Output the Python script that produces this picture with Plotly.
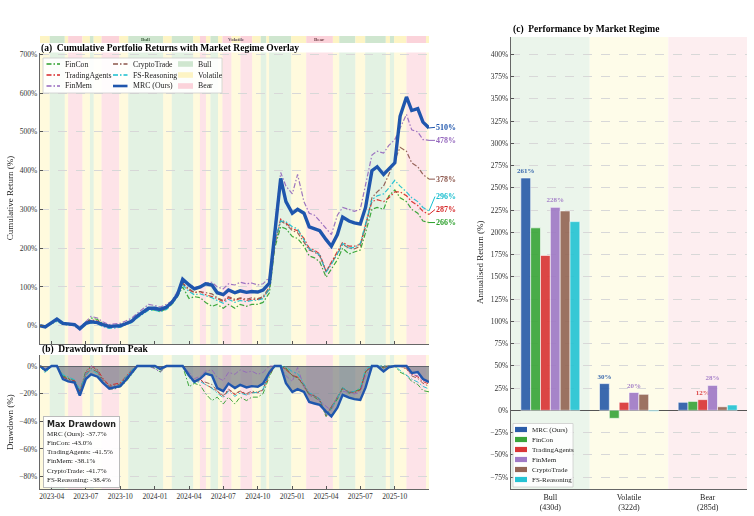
import numpy as np
import plotly.graph_objects as go

# ---------------- data ----------------
DATES = ["2023-03-01", "2023-03-15", "2023-04-01", "2023-04-15", "2023-05-01", "2023-05-15",
         "2023-06-01", "2023-06-15", "2023-07-01", "2023-07-15", "2023-08-01", "2023-08-15",
         "2023-09-01", "2023-09-15", "2023-10-01", "2023-10-15", "2023-11-01", "2023-11-15",
         "2023-12-01", "2023-12-15",
         "2024-01-01", "2024-01-15", "2024-02-01", "2024-02-15", "2024-03-01", "2024-03-15",
         "2024-04-01", "2024-04-15", "2024-05-01", "2024-05-15", "2024-06-01", "2024-06-15",
         "2024-07-01", "2024-07-15", "2024-08-01", "2024-08-15", "2024-09-01", "2024-09-15",
         "2024-10-01", "2024-10-15", "2024-11-01", "2024-11-15", "2024-12-01", "2024-12-15",
         "2025-01-01", "2025-01-15", "2025-02-01", "2025-02-15", "2025-03-01", "2025-03-15",
         "2025-04-01", "2025-04-15", "2025-05-01", "2025-05-15", "2025-06-01", "2025-06-15",
         "2025-07-01", "2025-07-15", "2025-08-01", "2025-08-15", "2025-09-01", "2025-09-15",
         "2025-10-01", "2025-10-15", "2025-11-01", "2025-11-15", "2025-12-01", "2025-12-15",
         "2025-12-31"]

MRC = [0, -3, 8, 17, 6, 4, 3, -8, 6, 10, 8, 3, -2, -1, 0, 5, 12, 25, 35, 45,
       45, 42, 48, 60, 80, 120, 105, 95, 100, 108, 105, 85, 80, 92, 85, 90, 86, 88, 87, 92,
       110, 230, 380, 320,
       290, 300, 290, 255, 250, 245, 222, 205, 235, 280, 270, 265, 262, 305, 400, 410, 390, 405,
       420, 540, 590, 555, 560, 525, 510]
FINCON = [0, -4, 6, 12, 4, 2, 0, -9, 8, 20, 16, 6, 0, 0, 2, 6, 13, 24, 33, 42,
          40, 36, 44, 55, 75, 100, 70, 75, 72, 60, 50, 55, 45, 55, 45, 55, 50, 55, 55, 60,
          85, 200, 255, 250,
          230, 225, 205, 180, 175, 165, 125, 145, 170, 200, 185, 190, 195, 240, 300, 305, 300, 335,
          350, 330, 320, 300, 290, 270, 266]
TRADINGAGENTS = [0, -3, 7, 14, 5, 3, 2, -7, 8, 15, 12, 5, -1, 0, 1, 6, 12, 23, 33, 42,
                 42, 38, 45, 57, 78, 108, 92, 85, 88, 80, 75, 70, 62, 72, 65, 70, 65, 68, 68, 72,
                 95, 210, 275, 265,
                 250, 245, 225, 200, 195, 185, 140, 165, 190, 215, 205, 205, 210, 260, 320, 325, 320,
                 330, 345, 345, 335, 320, 310, 295, 287]
FINMEM = [0, -2, 9, 18, 7, 5, 4, -5, 12, 24, 20, 10, 3, 4, 6, 12, 20, 32, 45, 55,
          52, 48, 55, 64, 88, 118, 108, 98, 102, 110, 112, 100, 95, 108, 105, 112, 108, 110, 105,
          108, 125, 250, 395, 360,
          340, 390, 320, 290, 285, 270, 250, 235, 285, 305, 300, 295, 300, 360, 440, 450, 445, 465,
          480, 510, 545, 505, 500, 480, 478]
CRYPTOTRADE = [0, -3, 8, 15, 6, 4, 2, -6, 7, 13, 10, 4, -2, -1, 0, 5, 11, 22, 33, 43,
               43, 40, 46, 58, 78, 110, 95, 86, 88, 85, 82, 72, 65, 75, 68, 72, 68, 72, 70, 75,
               100, 210, 270, 262,
               245, 240, 215, 195, 190, 180, 140, 160, 185, 210, 200, 198, 205, 255, 330, 345, 360,
               390, 430, 460, 450, 420, 410, 390, 378]
FSREASONING = [0, -5, 6, 11, 4, 2, 0, -8, 4, 8, 5, -2, -7, -6, -4, 2, 8, 20, 30, 40,
               40, 36, 42, 55, 75, 105, 88, 80, 82, 78, 72, 65, 58, 68, 60, 65, 62, 65, 66, 70,
               95, 215, 270, 268,
               255, 250, 222, 198, 192, 182, 138, 158, 185, 212, 200, 202, 212, 262, 325, 335, 340,
               355, 375, 360, 345, 330, 320, 305, 296]

LINE_NAMES = ["FinCon", "TradingAgents", "FinMem", "CryptoTrade", "FS-Reasoning", "MRC (Ours)"]
LINE_COLORS = ["#2ca02c", "#d62728", "#9467bd", "#8c564b", "#17becf", "#1f56ad"]

SEG_START = ["2023-03-01", "2023-03-27", "2023-05-06", "2023-05-15", "2023-06-22", "2023-07-12",
             "2023-07-22", "2023-08-12", "2023-09-28", "2023-10-22", "2024-01-23", "2024-02-15",
             "2024-04-12", "2024-04-30", "2024-05-16", "2024-05-28", "2024-06-17", "2024-06-29",
             "2024-07-23", "2024-08-16", "2024-09-16", "2024-10-09", "2024-10-24", "2024-10-31",
             "2024-12-29", "2025-02-07", "2025-04-19", "2025-05-06", "2025-06-18", "2025-07-14",
             "2025-09-07", "2025-09-18", "2025-09-29", "2025-11-01", "2025-12-23"]
SEG_END = SEG_START[1:] + ["2025-12-31"]
SEG_REGIME = ["Volatile", "Bull", "Volatile", "Bear", "Volatile", "Bull",
              "Volatile", "Bear", "Volatile", "Bull", "Volatile", "Bull",
              "Volatile", "Bear", "Volatile", "Bull", "Volatile", "Bear",
              "Volatile", "Bear", "Volatile", "Bull", "Volatile", "Bull",
              "Volatile", "Bear", "Volatile", "Bull", "Volatile", "Bull",
              "Volatile", "Bull", "Volatile", "Bear", "Volatile"]

REGIMES = ["Bull", "Volatile", "Bear"]
REGIME_DAYS = [430, 322, 285]
BAR_NAMES = ["MRC (Ours)", "FinCon", "TradingAgents", "FinMem", "CryptoTrade", "FS-Reasoning"]
BAR_COLORS = ["#2a5ca8", "#3aa53a", "#d93636", "#a07ac6", "#946656", "#26c3d3"]
RET_MRC = [261, 30, 9]
RET_FINCON = [205, -9, 10]
RET_TRADINGAGENTS = [174, 9, 12]
RET_FINMEM = [228, 20, 28]
RET_CRYPTOTRADE = [224, 18, 4]
RET_FSREASONING = [212, -1, 6]

MAXDD_NAMES = ["MRC (Ours)", "FinCon", "TradingAgents", "FinMem", "CryptoTrade", "FS-Reasoning"]
MAXDD_VALUES = [-37.7, -43.0, -41.5, -38.1, -41.7, -38.4]

# ---------------- geometry / style ----------------
W, H = 754, 516
FONT = "Liberation Serif"


def PX(x):
    return x / W


def PY(y):
    return 1 - y / H


A_L, A_R, A_T, A_B = 40, 429, 52.5, 344
B_T, B_B = 355, 489
C_L, C_R, C_T, C_B = 511, 747, 37, 489
YA_RANGE = [-47.2, 704.6]
YB_RANGE = [-89, 8]
YC_RANGE = [-88.4, 419.4]
X_RANGE = ["2023-03-01", "2025-12-31"]

PLOT_FILL = {"Bull": "rgba(200,230,200,0.5)", "Volatile": "rgba(255,243,180,0.45)",
             "Bear": "rgba(252,200,210,0.5)"}
STRIP_FILL = {"Bull": "#cfe6cf", "Volatile": "#fdf4c4", "Bear": "#fbd3da"}
BAR_BG = {"Bull": "#ebf5eb", "Volatile": "#fefce9", "Bear": "#fdeef0"}
DASH = "5px,2px,1.5px,2px"

series = [FINCON, TRADINGAGENTS, FINMEM, CRYPTOTRADE, FSREASONING, MRC]

fig = go.Figure()

# ---------------- panel (a) cumulative ----------------
for name, col, vals in zip(LINE_NAMES, LINE_COLORS, series):
    ours = name.startswith("MRC")
    fig.add_trace(go.Scatter(
        x=DATES, y=vals, mode="lines", name=name, xaxis="x", yaxis="y",
        line=dict(color=col, width=3.4 if ours else 1.2, dash="solid" if ours else DASH),
        opacity=1.0 if ours else 0.9, showlegend=False))

# ---------------- panel (b) drawdown ----------------
def drawdown(vals):
    w = 1 + np.asarray(vals, dtype=float) / 100.0
    return (w / np.maximum.accumulate(w) - 1) * 100.0


fig.add_trace(go.Scatter(x=DATES, y=drawdown(MRC), mode="lines", fill="tozeroy",
                         fillcolor="rgba(105,110,125,0.62)",
                         line=dict(width=0, color="rgba(0,0,0,0)"),
                         xaxis="x2", yaxis="y2", showlegend=False, hoverinfo="skip"))
for name, col, vals in zip(LINE_NAMES, LINE_COLORS, series):
    ours = name.startswith("MRC")
    fig.add_trace(go.Scatter(
        x=DATES, y=drawdown(vals), mode="lines", xaxis="x2", yaxis="y2",
        line=dict(color=col, width=2.4 if ours else 1.0, dash="solid" if ours else DASH),
        opacity=1.0 if ours else 0.9, showlegend=False))

# ---------------- panel (c) bars ----------------
bar_vals = [RET_MRC, RET_FINCON, RET_TRADINGAGENTS, RET_FINMEM, RET_CRYPTOTRADE, RET_FSREASONING]
arr = np.array(bar_vals)
top2 = [set(np.argsort(arr[:, j])[-2:]) for j in range(len(REGIMES))]
for i, (name, col, vals) in enumerate(zip(BAR_NAMES, BAR_COLORS, bar_vals)):
    txt = ["<b>%d%%</b>" % v if i in top2[j] else "" for j, v in enumerate(vals)]
    fig.add_trace(go.Bar(
        x=REGIMES, y=vals, name=name, xaxis="x3", yaxis="y3",
        marker=dict(color=col, line=dict(color="white", width=0.6)), opacity=0.92,
        text=txt, textposition="outside", constraintext="none", cliponaxis=False,
        textfont=dict(family=FONT, size=7, color=col), showlegend=False))

shapes = []
annotations = []

# regime shading
for s, e, r in zip(SEG_START, SEG_END, SEG_REGIME):
    shapes.append(dict(type="rect", xref="x", yref="y domain", x0=s, x1=e, y0=0, y1=1,
                       fillcolor=PLOT_FILL[r], line=dict(width=0), layer="below"))
    shapes.append(dict(type="rect", xref="x2", yref="y2 domain", x0=s, x1=e, y0=0, y1=1,
                       fillcolor=PLOT_FILL[r], line=dict(width=0), layer="below"))
    shapes.append(dict(type="rect", xref="x", yref="paper", x0=s, x1=e, y0=PY(43), y1=PY(36),
                       fillcolor=STRIP_FILL[r], line=dict(width=0), layer="below"))
for j, r in enumerate(REGIMES):
    shapes.append(dict(type="rect", xref="x3", yref="y3 domain", x0=j - 0.5, x1=j + 0.5,
                       y0=0, y1=1, fillcolor=BAR_BG[r], line=dict(width=0), layer="below"))

# strip labels
for r, d, c in [("Bull", "2023-12-07", "#3f5f3f"), ("Volatile", "2024-08-04", "#5d4f5f"),
                ("Bear", "2025-03-14", "#6f3f47")]:
    annotations.append(dict(x=d, y=PY(39.3), xref="x", yref="paper", text="<b>%s</b>" % r,
                            showarrow=False, yanchor="middle", borderpad=0,
                            font=dict(family=FONT, size=5, color=c)))

# end labels for panel (a)
ppu = (A_B - A_T) / (YA_RANGE[1] - YA_RANGE[0])
last = [(vals[-1], col) for vals, col in zip(series, LINE_COLORS)]
order = sorted(range(len(last)), key=lambda k: last[k][0])
prev = None
for k in order:
    v, col = last[k]
    vpy = A_T + (YA_RANGE[1] - v) * ppu
    lpy = vpy if prev is None else min(vpy, prev - 13)
    prev = lpy
    annotations.append(dict(x=DATES[-1], y=v, xref="x", yref="y", text="<b>%d%%</b>" % v,
                            showarrow=True, arrowhead=0, arrowwidth=1, arrowcolor=col,
                            ax=6, ay=lpy - vpy, standoff=0, startstandoff=0,
                            xanchor="left", yanchor="middle", borderpad=0,
                            font=dict(family=FONT, size=8, color=col)))

# panel titles
annotations.append(dict(x=PX(40), y=PY(48.8), xref="paper", yref="paper", xanchor="left",
                        yanchor="middle", showarrow=False, borderpad=0,
                        text="<b>(a)\u00a0 Cumulative Portfolio Returns with Market Regime Overlay</b>",
                        font=dict(family=FONT, size=9.5, color="black")))
annotations.append(dict(x=PX(40), y=PY(349.5), xref="paper", yref="paper", xanchor="left",
                        yanchor="middle", showarrow=False,
                        text="<b>(b)\u00a0 Drawdown from Peak</b>",
                        font=dict(family=FONT, size=9.5, color="black")))
annotations.append(dict(x=PX(511), y=PY(30), xref="paper", yref="paper", xanchor="left",
                        yanchor="middle", showarrow=False,
                        text="<b>(c)\u00a0 Performance by Market Regime</b>",
                        font=dict(family=FONT, size=9.5, color="black")))

# y axis titles
for txt, xx, yy in [("Cumulative Return (%)", 10, (A_T + A_B) / 2),
                    ("Drawdown (%)", 10, (B_T + B_B) / 2),
                    ("Annualised Return (%)", 480, (C_T + C_B) / 2)]:
    annotations.append(dict(x=PX(xx), y=PY(yy), xref="paper", yref="paper", text=txt,
                            textangle=-90, showarrow=False, xanchor="center", yanchor="middle",
                            font=dict(family=FONT, size=9, color="#222")))

# legend panel (a)
shapes.append(dict(type="rect", xref="paper", yref="paper", x0=PX(43), x1=PX(222),
                   y0=PY(93), y1=PY(58), fillcolor="rgba(255,255,255,0.88)",
                   line=dict(color="#cccccc", width=0.8), layer="above"))
rows = [64, 75, 86]
for idx, name in enumerate(LINE_NAMES):
    c = idx // 3
    r = idx % 3
    x0, x1, tx = [(46.5, 60, 63), (113, 127.5, 131)][c]
    ours = name.startswith("MRC")
    shapes.append(dict(type="line", xref="paper", yref="paper", x0=PX(x0), x1=PX(x1),
                       y0=PY(rows[r]), y1=PY(rows[r]), layer="above",
                       line=dict(color=LINE_COLORS[idx], width=2.6 if ours else 1.3,
                                 dash="solid" if ours else DASH)))
    annotations.append(dict(x=PX(tx), y=PY(rows[r]), xref="paper", yref="paper", text=name,
                            showarrow=False, xanchor="left", yanchor="middle",
                            font=dict(family=FONT, size=7.8, color="#222")))
for r, reg in enumerate(REGIMES):
    shapes.append(dict(type="rect", xref="paper", yref="paper", x0=PX(178), x1=PX(193),
                       y0=PY(rows[r] + 2.8), y1=PY(rows[r] - 2.8), fillcolor=STRIP_FILL[reg],
                       line=dict(width=0), layer="above"))
    annotations.append(dict(x=PX(196), y=PY(rows[r]), xref="paper", yref="paper", text=reg,
                            showarrow=False, xanchor="left", yanchor="middle",
                            font=dict(family=FONT, size=7.8, color="#222")))

# legend panel (c)
shapes.append(dict(type="rect", xref="paper", yref="paper", x0=PX(513), x1=PX(573),
                   y0=PY(487), y1=PY(423.5), fillcolor="rgba(255,255,255,0.88)",
                   line=dict(color="#cccccc", width=0.8), layer="above"))
for i, (name, col) in enumerate(zip(BAR_NAMES, BAR_COLORS)):
    yy = 429.5 + 10 * i
    shapes.append(dict(type="rect", xref="paper", yref="paper", x0=PX(515), x1=PX(527),
                       y0=PY(yy + 2.6), y1=PY(yy - 2.6), fillcolor=col,
                       line=dict(width=0), layer="above"))
    annotations.append(dict(x=PX(530), y=PY(yy), xref="paper", yref="paper", text=name,
                            showarrow=False, xanchor="left", yanchor="middle",
                            font=dict(family=FONT, size=7, color="#222")))

# max drawdown box
dd_lines = ["<span style='font-family:DejaVu Sans;font-size:8px'><b>Max Drawdown</b></span>"]
dd_lines += ["%s: %.1f%%" % (n, v) for n, v in zip(MAXDD_NAMES, MAXDD_VALUES)]
annotations.append(dict(x=PX(43), y=PY(416), xref="paper", yref="paper", xanchor="left",
                        yanchor="top", align="left", showarrow=False, text="<br>".join(dd_lines),
                        bgcolor="rgba(255,255,255,0.92)", bordercolor="#bbbbbb", borderwidth=1,
                        borderpad=3, font=dict(family=FONT, size=7, color="#222")))

tickfont = dict(family=FONT, size=7.5, color="#333")
axis_common = dict(showline=True, linecolor="#666", linewidth=1.4, ticks="inside", ticklen=3,
                   tickcolor="#555", tickfont=tickfont, automargin=False, mirror=False)
grid = dict(showgrid=True, gridcolor="#d8d8d8", gridwidth=0.6, griddash="dash")

fig.update_layout(
    width=W, height=H, margin=dict(l=0, r=0, t=0, b=0),
    paper_bgcolor="white", plot_bgcolor="white", showlegend=False,
    font=dict(family=FONT, size=8, color="#222"),
    barmode="group", bargap=0.25, bargroupgap=0,
    xaxis=dict(domain=[PX(A_L), PX(A_R)], anchor="y", type="date", range=X_RANGE,
               showticklabels=False, dtick="M3", tick0="2023-01-01", showgrid=False,
               **axis_common),
    yaxis=dict(domain=[PY(A_B), PY(A_T)], anchor="x", range=YA_RANGE, dtick=100,
               ticksuffix="%", zeroline=False, **grid, **axis_common),
    xaxis2=dict(domain=[PX(A_L), PX(A_R)], anchor="y2", type="date", range=X_RANGE,
                dtick="M3", tick0="2023-01-01", tickformat="%Y-%m", showgrid=False,
                **axis_common),
    yaxis2=dict(domain=[PY(B_B), PY(B_T)], anchor="x2", range=YB_RANGE, dtick=20,
                ticksuffix="%", zeroline=True, zerolinecolor="#555", zerolinewidth=1.3,
                **grid, **axis_common),
    xaxis3=dict(domain=[PX(C_L), PX(C_R)], anchor="y3", type="category", range=[-0.5, 2.5],
                tickvals=REGIMES,
                ticktext=["%s<br>(%dd)" % (r, d) for r, d in zip(REGIMES, REGIME_DAYS)],
                showgrid=False, showline=True, linecolor="#666", linewidth=1.4, ticks="",
                tickfont=dict(family=FONT, size=8, color="#222"), automargin=False),
    yaxis3=dict(domain=[PY(C_B), PY(C_T)], anchor="x3", range=YC_RANGE, dtick=25,
                ticksuffix="%", zeroline=True, zerolinecolor="#555", zerolinewidth=1.3,
                **grid, **axis_common),
    shapes=shapes, annotations=annotations,
)

fig.write_html("out.html")
